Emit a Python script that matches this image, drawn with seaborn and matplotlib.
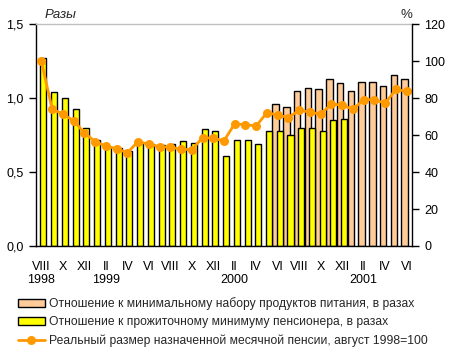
import numpy as np
import pandas as pd
import matplotlib
matplotlib.use("Agg")
import matplotlib.pyplot as plt
import seaborn as sns
from matplotlib.patches import Patch
from matplotlib.lines import Line2D

# months VIII 1998 .. VI 2001
months = ['VIII', 'IX', 'X', 'XI', 'XII',
          'I', 'II', 'III', 'IV', 'V', 'VI', 'VII', 'VIII', 'IX', 'X', 'XI', 'XII',
          'I', 'II', 'III', 'IV', 'V', 'VI', 'VII', 'VIII', 'IX', 'X', 'XI', 'XII',
          'I', 'II', 'III', 'IV', 'V', 'VI']
years = {0: '1998', 6: '1999', 18: '2000', 30: '2001'}

# отношение к прожиточному минимуму пенсионера (VIII 1998 .. XII 2000)
prozh = [1.27, 1.04, 1.00, 0.93, 0.80, 0.72, 0.67, 0.66, 0.64, 0.70,
         0.69, 0.68, 0.69, 0.71, 0.70, 0.79, 0.78, 0.61, 0.72, 0.72,
         0.69, 0.78, 0.78, 0.75, 0.80, 0.80, 0.78, 0.85, 0.86]
# отношение к минимальному набору продуктов (VI 2000 .. VI 2001)
prod_start = 22
prod = [0.96, 0.94, 1.05, 1.07, 1.06, 1.13, 1.10, 1.05, 1.11, 1.11,
        1.08, 1.16, 1.13]
# реальный размер пенсии, август 1998=100
pens = [100, 74.2, 71.4, 67.8, 61.3, 56.5, 54.1, 52.7, 50.5, 56.5,
        55.2, 53.8, 53.4, 52.5, 52.0, 58.7, 58.3, 57.0, 66.2, 65.6,
        65.0, 72.2, 70.9, 69.5, 73.6, 72.4, 71.4, 76.9, 76.2, 74.0,
        79.2, 79.2, 77.2, 84.8, 83.7]

c_prod = '#FFCC99'
c_prozh = '#FFFF00'
c_line = '#FF9900'

lbl_prod = 'Отношение к минимальному набору продуктов питания, в разах'
lbl_prozh = 'Отношение к прожиточному минимуму пенсионера, в разах'
lbl_pens = 'Реальный размер назначенной месячной пенсии, август 1998=100'

sns.set_theme(style="white")
plt.rcParams['font.family'] = ['Liberation Sans', 'DejaVu Sans']

fig = plt.figure(figsize=(4.51, 3.56), dpi=100)
ax = fig.add_axes([36 / 451, 1 - 246 / 356, 376 / 451, 221.7 / 356])

n = len(months)
idx = np.arange(n)
df_prod = pd.DataFrame({'x': idx[prod_start:prod_start + len(prod)] - 0.19, 'v': prod})
df_prozh = pd.DataFrame({'x': idx[:len(prozh)] + 0.19, 'v': prozh})

sns.barplot(data=df_prod, x='x', y='v', native_scale=True, width=0.6,
            color=c_prod, saturation=1, edgecolor='black', linewidth=1,
            errorbar=None, ax=ax)
sns.barplot(data=df_prozh, x='x', y='v', native_scale=True, width=0.56,
            color=c_prozh, saturation=1, edgecolor='black', linewidth=1,
            errorbar=None, ax=ax)

ax.set_xlim(-0.5, n - 0.5)
ax.set_ylim(0, 1.5)
ax.set_yticks([0, 0.5, 1.0, 1.5])
ax.set_yticklabels(['0,0', '0,5', '1,0', '1,5'])
ticks = idx[::2]
ax.set_xticks(ticks)
ax.set_xticklabels([months[i] + ('\n' + years[i] if i in years else '') for i in ticks],
                   ha='center', va='top', linespacing=1.05)
ax.set_xlabel('')
ax.set_ylabel('')
ax.tick_params(axis='x', bottom=False, length=0, pad=11, labelsize=9, colors='black')
ax.tick_params(axis='y', left=True, length=5, width=1, pad=4, direction='out',
               labelsize=9, colors='black')
for s in ['left', 'bottom']:
    ax.spines[s].set_color('black')
    ax.spines[s].set_linewidth(1)
ax.spines['right'].set_visible(False)
ax.spines['top'].set_color('#C0C0C0')
ax.spines['top'].set_linewidth(1)

ax2 = ax.twinx()
sns.lineplot(x=idx, y=pens, ax=ax2, color=c_line, marker='o', markersize=6.5,
             markeredgewidth=0, linewidth=2)
ax2.set_ylim(0, 120)
ax2.set_yticks(range(0, 121, 20))
ax2.set_ylabel('')
ax2.tick_params(axis='y', right=True, length=5, width=1, pad=4, direction='out',
                labelsize=9, colors='black')
for s in ['left', 'top', 'bottom']:
    ax2.spines[s].set_visible(False)
ax2.spines['right'].set_color('black')
ax2.spines['right'].set_linewidth(1)

fig.text(45 / 451, 1 - 15 / 356, 'Разы', style='italic', fontsize=9.5,
         ha='left', va='center')
fig.text(406 / 451, 1 - 15 / 356, '%', fontsize=9.5, ha='center', va='center')

handles = [Patch(facecolor=c_prod, edgecolor='black', linewidth=1),
           Patch(facecolor=c_prozh, edgecolor='black', linewidth=1),
           Line2D([], [], color=c_line, linewidth=2, marker='o', markersize=6.5,
                  markeredgewidth=0)]
fig.legend(handles, [lbl_prod, lbl_prozh, lbl_pens], loc='upper left',
           bbox_to_anchor=(12 / 451, 1 - 291 / 356), frameon=False,
           fontsize=8.7, handlelength=2.2, handleheight=0.6, handletextpad=0.4,
           labelspacing=0.52, borderpad=0)

fig.savefig('out.png', dpi=100)
